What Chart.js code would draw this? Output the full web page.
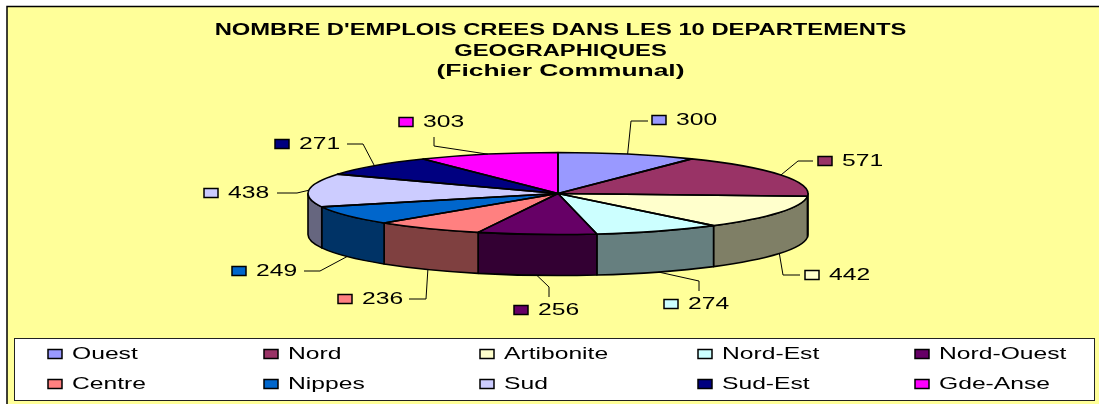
<!DOCTYPE html>
<html>
<head>
<meta charset="utf-8">
<style>html,body{margin:0;padding:0;background:#fff;overflow:hidden}canvas{display:block}</style>
<script src="https://cdn.jsdelivr.net/npm/chart.js@4/dist/chart.umd.min.js"></script>
</head>
<body>
<canvas id="c" width="1099" height="404"></canvas>
<script>
const departments = ['Ouest','Nord','Artibonite','Nord-Est','Nord-Ouest','Centre','Nippes','Sud','Sud-Est','Gde-Anse'];
const jobs = [300,571,442,274,256,236,249,438,271,303];
const sliceColors = ['#9999FF','#993366','#FFFFCC','#CCFFFF','#660066','#FF8080','#0066CC','#CCCCFF','#000080','#FF00FF'];
const titleLines = ["NOMBRE D'EMPLOIS CREES DANS LES 10 DEPARTEMENTS",'GEOGRAPHIQUES'];
const subtitleLine = '(Fichier Communal)';

// layout (separate from the data): ellipse, extrusion, text stretch
const pie3d = {cx:558, cy:193.5, rx:250, ry:41, depth:41};
const textStretch = 1.45, titleStretch = 1.485, subtitleStretch = 1.65;
// callouts: swatch left, label centre y, elbow and end of the leader line
const callouts = [
 {sx:652,y:120,ex:631,ey:121,tx:648,ty:121},
 {sx:818,y:161,ex:798,ey:161,tx:813,ty:161},
 {sx:805,y:275,ex:783,ey:275,tx:800,ty:275},
 {sx:664,y:304,ex:699,ey:281,tx:699,ty:291},
 {sx:514,y:310,ex:549,ey:287,tx:549,ty:297},
 {sx:338,y:299,ex:426,ey:299,tx:409,ty:299},
 {sx:232,y:271,ex:320,ey:271,tx:304,ty:271},
 {sx:204,y:193,ex:297,ey:193,tx:277,ty:193},
 {sx:275,y:144,ex:363,ey:144,tx:347,ty:144},
 {sx:399,y:122,ex:434,ey:146,tx:434,ty:137}
];
const legendBox = {x:14,y:338,w:1080,h:62};
const legendCols = [48,264,480,698,915];
const legendRows = [354,384];

function dark(hex){
  const n = parseInt(hex.slice(1),16);
  return `rgb(${(n>>16&255)>>1},${(n>>8&255)>>1},${(n&255)>>1})`;
}
function stretched(ctx,text,x,y,k,font,align){
  ctx.save();
  ctx.font = font; ctx.fillStyle='#000'; ctx.textBaseline='middle'; ctx.textAlign=align||'left';
  ctx.translate(x,y); ctx.scale(k,1); ctx.fillText(text,0,0);
  ctx.restore();
}
function swatch(ctx,x,y,color){
  ctx.fillStyle=color; ctx.strokeStyle='#000'; ctx.lineWidth=1.5;
  ctx.fillRect(x,y-4.5,14,9); ctx.strokeRect(x,y-4.5,14,9);
}
const LABEL_FONT = '17px "Liberation Sans"';

const pie3dPlugin = {
  id:'pie3d',
  afterLayout(chart){
    chart.boxes.filter(b=>b.options && b.options.text!==undefined).forEach(b=>{
      if(b._wrapped) return; b._wrapped=true;
      const k = Array.isArray(b.options.text) ? titleStretch : subtitleStretch;
      const orig = b.draw;
      b.draw = function(){
        const ctx=chart.ctx, mid=(b.left+b.right)/2;
        ctx.save(); ctx.translate(560.5,0); ctx.scale(k,1); ctx.translate(-mid,0);
        orig.call(b); ctx.restore();
      };
    });
  },
  beforeDraw(chart){
    const ctx=chart.ctx;
    ctx.save();
    ctx.fillStyle='#fff'; ctx.fillRect(0,0,1099,404);
    ctx.fillStyle='#FFFF99'; ctx.fillRect(7,7,1092,397);
    ctx.strokeStyle='#000'; ctx.lineWidth=1.5;
    ctx.beginPath(); ctx.moveTo(7,404); ctx.lineTo(7,6.5); ctx.lineTo(1099,6.5); ctx.stroke();
    ctx.restore();
  },
  beforeDatasetsDraw(chart){
    const ctx=chart.ctx, p=pie3d, arcs=chart.getDatasetMeta(0).data;
    ctx.save();
    ctx.lineWidth=1.6; ctx.strokeStyle='#000'; ctx.lineJoin='round';
    // side wall: only the front half of the rim is visible
    arcs.forEach((el,i)=>{
      const a0=Math.max(el.startAngle,0), a1=Math.min(el.endAngle,Math.PI);
      if(a1<=a0) return;
      ctx.beginPath();
      ctx.ellipse(p.cx,p.cy,p.rx,p.ry,0,a0,a1);
      ctx.ellipse(p.cx,p.cy+p.depth,p.rx,p.ry,0,a1,a0,true);
      ctx.closePath();
      ctx.fillStyle=dark(sliceColors[i]); ctx.fill(); ctx.stroke();
    });
    // top face: the library's arc elements, flattened to an ellipse
    arcs.forEach(el=>{
      const r=el.outerRadius;
      ctx.save();
      ctx.translate(p.cx,p.cy); ctx.scale(p.rx/r,p.ry/r); ctx.translate(-el.x,-el.y);
      el.draw(ctx);
      ctx.restore();
    });
    arcs.forEach(el=>{
      ctx.beginPath();
      ctx.moveTo(p.cx,p.cy);
      ctx.ellipse(p.cx,p.cy,p.rx,p.ry,0,el.startAngle,el.endAngle);
      ctx.closePath(); ctx.stroke();
    });
    ctx.restore();
    return false;
  },
  afterDraw(chart){
    const ctx=chart.ctx, p=pie3d, arcs=chart.getDatasetMeta(0).data;
    ctx.save();
    // callouts
    arcs.forEach((el,i)=>{
      const c=callouts[i], a=(el.startAngle+el.endAngle)/2;
      const ax=p.cx+p.rx*Math.cos(a);
      const ay=p.cy+p.ry*Math.sin(a)+(Math.sin(a)>0?p.depth:0);
      ctx.strokeStyle='#000'; ctx.lineWidth=1;
      ctx.beginPath(); ctx.moveTo(ax,ay); ctx.lineTo(c.ex,c.ey); ctx.lineTo(c.tx,c.ty); ctx.stroke();
      swatch(ctx,c.sx,c.y,sliceColors[i]);
      stretched(ctx,String(jobs[i]),c.sx+24,c.y+0.5,textStretch,LABEL_FONT);
    });
    // legend
    const b=legendBox;
    ctx.fillStyle='#fff'; ctx.fillRect(b.x,b.y,b.w,b.h);
    ctx.strokeStyle='#222'; ctx.lineWidth=1; ctx.strokeRect(b.x+.5,b.y+.5,b.w,b.h);
    departments.forEach((d,i)=>{
      const x=legendCols[i%5], y=legendRows[Math.floor(i/5)];
      swatch(ctx,x,y,sliceColors[i]);
      stretched(ctx,d,x+24,y,textStretch,LABEL_FONT);
    });
    ctx.restore();
  }
};

Chart.defaults.font.family='"Liberation Sans"';
new Chart(document.getElementById('c'),{
  type:'pie',
  data:{labels:departments,datasets:[{data:jobs,backgroundColor:sliceColors,borderWidth:0,hoverOffset:0}]},
  options:{
    responsive:false,animation:false,events:[],
    plugins:{
      legend:{display:false},tooltip:{enabled:false},
      title:{display:true,text:titleLines,color:'#000',align:'center',font:{size:16,weight:'bold',lineHeight:1.3},padding:{top:20,bottom:0}},
      subtitle:{display:true,text:subtitleLine,color:'#000',align:'center',font:{size:16,weight:'bold',lineHeight:1.3},padding:{top:0,bottom:0}}
    }
  },
  plugins:[pie3dPlugin]
});
</script>
</body>
</html>
